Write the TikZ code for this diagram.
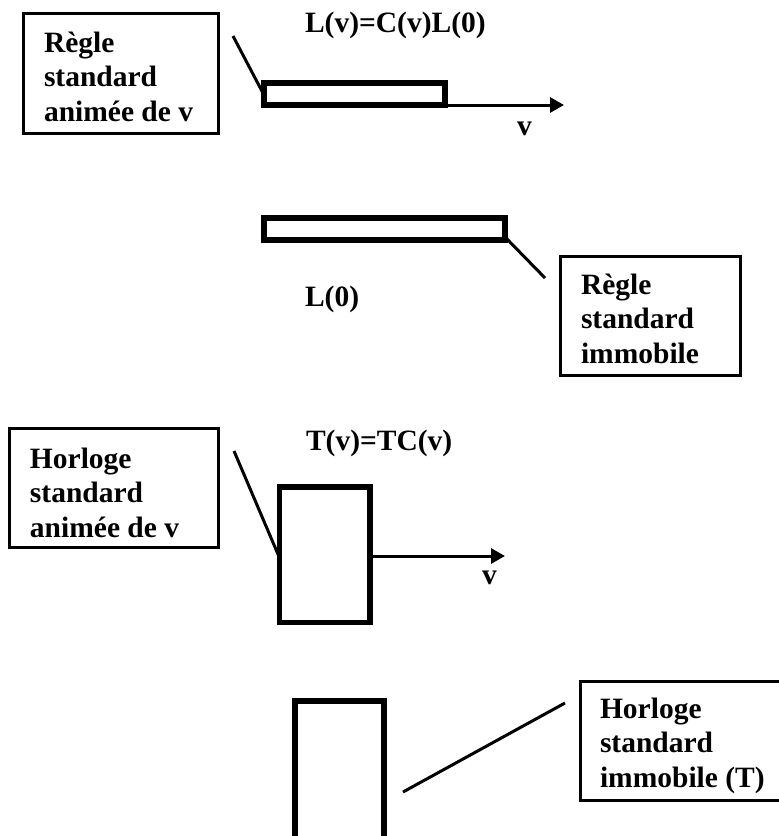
\documentclass[tikz,border=0pt]{standalone}
\usepackage{fontspec}
\setmainfont{Liberation Serif}
\usetikzlibrary{arrows.meta}
\begin{document}
\begin{tikzpicture}[x=1pt,y=-1pt,
  every node/.style={inner sep=0pt, outer sep=0pt},
  lbl/.style={font=\fontsize{29.5}{34.5}\selectfont\bfseries, align=left, anchor=base west},
  frame/.style={draw, line width=3pt, anchor=north west},
  bar/.style={draw, line width=6pt},
  lead/.style={line width=3pt},
  mov/.style={line width=3pt, -{Triangle[length=14pt,width=15pt]}}
]
\useasboundingbox (0,0) rectangle (779,836);

% frames
\node[frame, minimum width=195pt, minimum height=120pt] (b1) at (23.5,13.5) {};
\node[frame, minimum width=180pt, minimum height=119pt] (b2) at (560.5,256.5) {};
\node[frame, minimum width=209pt, minimum height=119pt] (b3) at (9.5,428.5) {};
\node[frame, minimum width=220pt, minimum height=119pt] (b4) at (580.5,681.5) {};

% box texts (anchor = baseline of last line)
\node[lbl] (t1) at (44,121) {Règle\\standard\\animée de v};
\node[lbl] (t2) at (581,363) {Règle\\standard\\immobile};
\node[lbl] (t3) at (30,537) {Horloge\\standard\\animée de v};
\node[lbl] (t4) at (600,787) {Horloge\\standard\\immobile (T)};

% rulers and clocks
\node[bar, minimum width=180.5pt, minimum height=22pt] (r1) at (354.25,94) {};
\node[bar, minimum width=241pt, minimum height=22.5pt] (r2) at (384.5,228.75) {};
\node[bar, line width=5.5pt, minimum width=90.5pt, minimum height=135.5pt] (c1) at (324.75,554.75) {};
\node[bar, minimum width=89.5pt, minimum height=144.5pt] (c2) at (339.25,772.75) {};

% formulas and labels
\node[lbl] (f1) at (305,32) {L(v)=C(v)L(0)};
\node[lbl] (v1) at (517,135) {v};
\node[lbl] (l0) at (305,306) {L(0)};
\node[lbl] (f2) at (306,450) {T(v)=TC(v)};
\node[lbl] (v2) at (482,584) {v};

% coordinates
\coordinate (p1) at (233,36);
\coordinate (p2) at (545,278);
\coordinate (p3) at (234,451);
\coordinate (p4a) at (403,792);
\coordinate (p4b) at (565,703);
\coordinate (a1) at (564,105);
\coordinate (a2) at (505,556);

% leader lines
\draw[lead] (p1) -- ([yshift=-1pt]r1.west);
\draw[lead] ([yshift=3pt]r2.south east) -- (p2);
\draw[lead] (p3) -- ([yshift=-3pt]c1.west);
\draw[lead] (p4a) -- (p4b);

% velocity arrows
\draw[mov] (r1.south east) -- (a1);
\draw[mov] (c1.east |- a2) -- (a2);
\end{tikzpicture}
\end{document}
